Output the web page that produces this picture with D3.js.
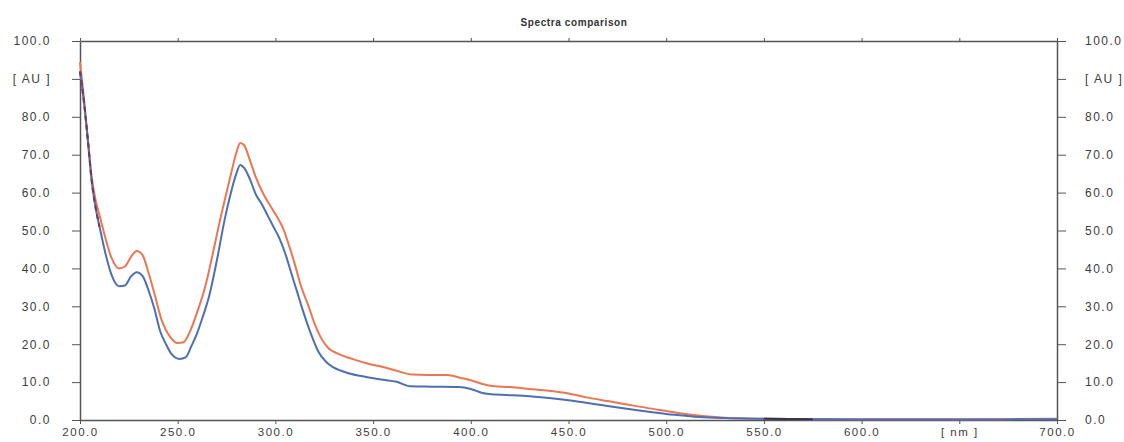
<!DOCTYPE html>
<html>
<head>
<meta charset="utf-8">
<script src="https://cdn.jsdelivr.net/npm/d3@7"></script>
<style>
  body { margin: 0; background: #fff; }
  svg { display: block; }
  .axis text { font-family: "Liberation Sans", Arial, sans-serif; font-size: 12px; fill: #3c3c3c; letter-spacing: 1.5px; }
  .axis.bottom text { font-size: 11.5px; }
  .axis path, .axis line { stroke: #555; }
</style>
</head>
<body>
<svg class="chart" width="1124" height="442"></svg>
<script>
// wavelength [nm] and absorbance [AU], sample 1 (blue)
var nm_blue = [200, 202, 204, 206, 208, 210, 213, 216, 220, 223, 226, 229, 232, 235, 238, 241, 244, 247, 251, 254,
    257, 260, 263, 266, 270, 274, 277, 280, 282, 284, 287, 290, 293, 296, 299, 302, 305, 308, 311,
    314, 318, 322, 326, 330, 337, 347, 355, 362, 369, 380, 394, 400, 406, 413, 422, 440, 450, 466, 478,
    488, 500, 510, 517, 530, 550, 575, 600, 650, 700];
var au_blue = [92, 84, 74, 63, 56, 51, 44, 38.5, 35.3, 35.5, 37.8, 39, 38, 34.3, 29.5, 23.5, 20, 17.3, 16.1, 16.5,
    19.5, 23, 27.5, 32.5, 42, 52.8, 59.5, 65, 67.3, 66.5, 63.5, 59.5, 57, 54, 51, 48, 44, 39, 34,
    29, 23, 18, 15.3, 13.8, 12.4, 11.3, 10.6, 10.1, 8.9, 8.8, 8.7, 8.2, 7.1, 6.7, 6.5, 5.8, 5.2, 4.0, 3.1,
    2.4, 1.6, 1.1, 0.8, 0.5, 0.3, 0.2, 0.15, 0.15, 0.2];

// sample 2 (orange)
var nm_orange = [200, 202, 204, 206, 208, 210, 213, 216, 220, 223, 226, 229, 232, 235, 238, 242, 246, 250, 253, 256,
    260, 264, 268, 272, 275, 278, 280, 282, 284, 287, 290, 294, 298, 301, 304, 307, 310, 313, 317,
    320, 323, 327, 332, 340, 348, 355, 362, 370, 378, 388, 395, 400, 406, 412, 420, 430, 440, 450, 460,
    470, 480, 490, 500, 510, 520, 530, 540, 550, 575, 600, 650, 700];
var au_orange = [94.5, 85, 74, 64, 58, 54, 48, 43, 40, 40.5, 43, 44.6, 43.5, 39, 33.5, 26, 22, 20.3, 20.5, 23,
    28.5, 35, 44, 53.5, 60, 66.5, 70.5, 73.1, 72.5, 68.5, 64, 59.5, 56, 53.5, 50.5, 46, 41, 35.5, 30,
    25.5, 22, 19, 17.5, 16, 14.8, 14, 13, 12, 11.9, 11.9, 11.1, 10.5, 9.5, 8.9, 8.7, 8.2, 7.7, 7, 5.9,
    5, 4.1, 3.2, 2.4, 1.6, 1.0, 0.6, 0.4, 0.3, 0.2, 0.2, 0.2, 0.3];

var x_ticks = [200, 250, 300, 350, 400, 450, 500, 550, 600, 650, 700];
var y_ticks = [0, 10, 20, 30, 40, 50, 60, 70, 80, 90, 100];
var x_unit = "[ nm ]";
var y_unit = "[ AU ]";
var title = "Spectra comparison";

var chart = d3.select(".chart");

var x = d3.scaleLinear().domain([200, 700]).range([80, 1057]);
var y = d3.scaleLinear().domain([0, 100]).range([420, 41]);

function yLabel(d) { return d === 90 ? y_unit : d3.format(".1f")(d); }
function xLabel(d) { return d === 650 ? x_unit : d3.format(".1f")(d); }

// axes: left, right, top, bottom
chart.append("g").attr("class", "axis").attr("transform", "translate(80,0)")
    .call(d3.axisLeft(y).tickValues(y_ticks).tickSize(8).tickSizeOuter(0).tickPadding(21).tickFormat(yLabel));
chart.append("g").attr("class", "axis").attr("transform", "translate(1057,0)")
    .call(d3.axisRight(y).tickValues(y_ticks).tickSize(9).tickSizeOuter(0).tickPadding(19).tickFormat(yLabel));
chart.append("g").attr("class", "axis").attr("transform", "translate(0,41)")
    .call(d3.axisTop(x).tickValues(x_ticks).tickSize(3).tickSizeOuter(0).tickFormat(""));
chart.append("g").attr("class", "axis bottom").attr("transform", "translate(0,420)")
    .call(d3.axisBottom(x).tickValues(x_ticks).tickSize(4).tickSizeOuter(0).tickPadding(4).tickFormat(xLabel));

chart.selectAll(".axis path").attr("stroke-width", 1.5);

// title
chart.append("text")
    .attr("x", 574).attr("y", 26)
    .attr("text-anchor", "middle")
    .style("font-family", "Liberation Sans, Arial, sans-serif")
    .style("font-size", "10px").style("font-weight", "bold")
    .style("letter-spacing", "0.6px")
    .attr("fill", "#333")
    .text(title);

// spectra
var line = d3.line()
    .x(function(d) { return x(d[0]); })
    .y(function(d) { return y(d[1]); })
    .curve(d3.curveMonotoneX);

var blue = d3.zip(nm_blue, au_blue);
var orange = d3.zip(nm_orange, au_orange);

chart.append("path").datum(orange)
    .attr("d", line).attr("fill", "none")
    .attr("stroke", "#ea7652").attr("stroke-width", 2);
chart.append("path").datum(blue)
    .attr("d", line).attr("fill", "none")
    .attr("stroke", "#4d6fb3").attr("stroke-width", 2);

// where the two traces overlap they show up darker and dashed
chart.append("path").datum(blue.filter(function(d) { return d[0] <= 210; }))
    .attr("d", line).attr("fill", "none")
    .attr("stroke", "#7b3550").attr("stroke-width", 2)
    .attr("stroke-dasharray", "5,4");
chart.append("path").datum(blue.filter(function(d) { return d[0] >= 550 && d[0] <= 575; }))
    .attr("d", line).attr("fill", "none")
    .attr("stroke", "#3a3350").attr("stroke-width", 2);
</script>
</body>
</html>
